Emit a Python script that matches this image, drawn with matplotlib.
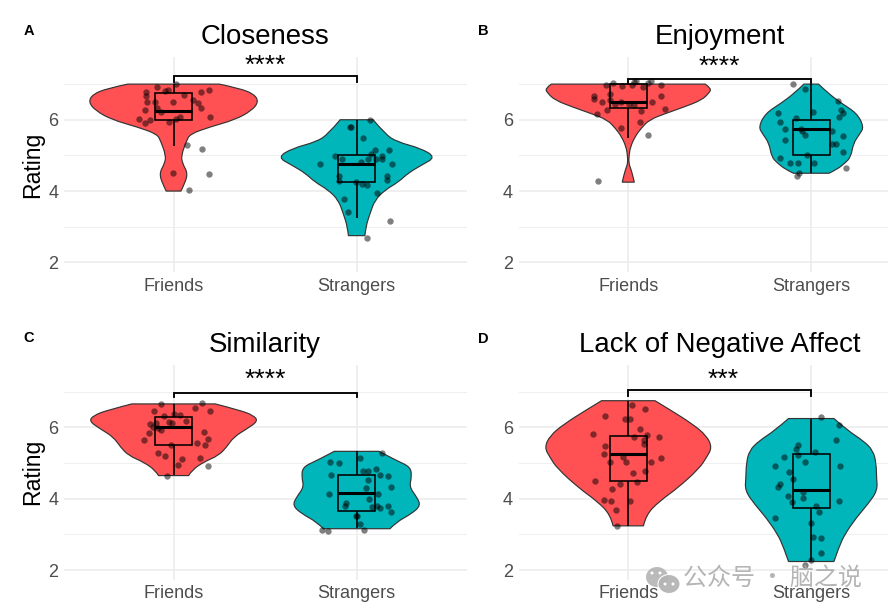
import matplotlib
matplotlib.use('Agg')
import matplotlib.pyplot as plt
from matplotlib.patches import PathPatch, Ellipse, Rectangle
from matplotlib.path import Path

plt.rcParams['font.family'] = ['Liberation Sans', 'DejaVu Sans']

W, H = 888, 615
RED = '#FF5053'
TEAL = '#00B6BB'

categories = ['Friends', 'Strangers']
titles = ['Closeness', 'Enjoyment', 'Similarity', 'Lack of Negative Affect']
panel_letters = ['A', 'B', 'C', 'D']
stars = ['****', '****', '****', '***']
y_ticks = [2, 4, 6]
y_minor = [3, 5, 7]

# violin outlines: rating level, half width in category units
a_f_lev = [7.0, 6.88, 6.72, 6.5, 6.25, 6.0, 5.8, 5.6, 5.4, 5.0, 4.78, 4.5, 4.2, 4.0]
a_f_wid = [.25, .36, .44, .465, .425, .335, .2, .09, .07, .042, .048, .078, .06, .04]
a_s_lev = [6.0, 5.6, 5.38, 5.2, 4.95, 4.73, 4.5, 4.26, 4.03, 3.75, 3.37, 3.0, 2.75]
a_s_wid = [.09, .155, .22, .35, .432, .355, .28, .23, .155, .10, .073, .05, .045]
b_f_lev = [7.0, 6.88, 6.74, 6.55, 6.36, 6.18, 6.0, 5.76, 5.52, 5.24, 5.0, 4.78, 4.65, 4.45, 4.25]
b_f_wid = [.42, .455, .44, .40, .306, .206, .115, .07, .036, .012, .004, .003, .012, .024, .033]
b_s_lev = [7.0, 6.74, 6.46, 6.18, 5.8, 5.6, 5.34, 4.96, 4.78, 4.6, 4.5]
b_s_wid = [.04, .093, .166, .25, .288, .265, .23, .217, .184, .138, .097]
c_f_lev = [6.66, 6.48, 6.34, 6.18, 5.96, 5.73, 5.45, 5.21, 5.03, 4.8, 4.65]
c_f_wid = [.228, .364, .435, .462, .40, .328, .29, .245, .164, .10, .082]
c_s_lev = [5.33, 5.07, 4.89, 4.6, 4.33, 4.05, 3.81, 3.58, 3.35, 3.16]
c_s_wid = [.122, .218, .295, .30, .288, .328, .35, .30, .218, .182]
d_f_lev = [6.75, 6.48, 6.1, 5.77, 5.44, 5.16, 4.85, 4.3, 3.93, 3.55, 3.24]
d_f_wid = [.146, .233, .35, .428, .458, .428, .388, .27, .17, .097, .083]
d_s_lev = [6.25, 5.91, 5.63, 5.35, 4.98, 4.6, 4.23, 3.85, 3.48, 3.01, 2.64, 2.24]
d_s_wid = [.124, .20, .284, .339, .355, .357, .362, .31, .248, .184, .151, .124]

# box stats: low whisker, q1, median, q3, high whisker
a_f_box = [5.25, 6.0, 6.25, 6.75, 7.0]
a_s_box = [3.25, 4.25, 4.75, 5.0, 6.0]
b_f_box = [5.5, 6.33, 6.5, 7.0, 7.0]
b_s_box = [4.5, 5.0, 5.75, 6.0, 7.0]
c_f_box = [4.67, 5.5, 6.0, 6.3, 6.67]
c_s_box = [3.17, 3.67, 4.17, 4.67, 5.33]
d_f_box = [3.25, 4.5, 5.25, 5.75, 6.75]
d_s_box = [2.25, 3.75, 4.25, 5.25, 6.25]

# jittered points: offset from the category, rating
a_f_off = [-.188, -.155, -.126, -.158, -.146, -.148, -.148, -.091, -.047, -.031, .011, -.100, -.091, -.071, -.005,
           .056, .104, .131, .151, .148, .193, .199, .033, .013, -.027, .071, .157, -.005, .191, .082]
a_f_val = [6.01, 5.91, 5.98, 6.28, 6.49, 6.68, 6.79, 6.92, 6.82, 6.83, 7.0, 6.49, 6.34, 6.21, 6.50,
           6.70, 6.55, 6.47, 6.34, 6.79, 6.84, 6.09, 6.07, 6.02, 5.93, 5.29, 5.18, 4.50, 4.47, 4.03]
a_s_off = [-.200, -.117, -.080, -.095, -.095, -.067, -.046, -.036, -.031, .036, .073, .098, .179, .077,
           .060, .137, .140, .104, .022, .191, .166, .166, -.002, .031, .058, .113, .182, .056]
a_s_val = [4.75, 4.98, 4.91, 4.43, 4.28, 3.79, 3.42, 5.80, 5.79, 5.49, 5.99, 5.14, 5.16, 5.03,
           4.91, 4.98, 4.91, 4.90, 4.81, 4.75, 4.41, 4.30, 4.25, 4.19, 4.17, 3.95, 3.17, 2.68]
b_f_off = [-.189, -.189, -.146, -.102, -.098, -.071, -.042, .005, .031, .071, .131, .181, .179, .199, .078,
           .020, -.035, -.082, -.120, .031, .044, .108, .126, -.173, -.115, -.040, .064, .109, -.164]
b_f_val = [6.66, 6.59, 6.50, 6.71, 6.55, 6.43, 6.49, 6.44, 6.40, 6.25, 6.51, 6.67, 6.98, 6.30, 6.92,
           6.97, 6.95, 7.04, 6.98, 7.05, 7.09, 7.03, 7.08, 6.17, 6.26, 5.78, 5.93, 5.56, 4.28]
b_s_off = [-.100, -.036, .146, .164, .175, .153, -.180, -.168, -.142, -.146, -.084, .007, -.055, -.049,
           -.036, .111, .171, .111, .137, .171, -.168, -.117, -.071, -.024, .015, .189, -.069, -.080]
b_s_val = [7.0, 6.85, 6.52, 6.27, 6.20, 6.07, 6.18, 5.93, 5.74, 5.42, 6.04, 6.22, 5.74, 5.69,
           5.57, 5.69, 5.55, 5.31, 5.31, 5.09, 4.93, 4.80, 4.80, 5.01, 4.79, 4.65, 4.51, 4.41]
c_f_off = [-.071, -.107, -.053, .004, .036, .115, .157, .200, .067, -.024, -.007, -.128, -.096, -.111, -.087,
           -.066, -.135, -.162, .164, .189, .129, .173, -.013, -.087, -.046, .047, .025, .146, .186, -.035]
c_f_val = [6.66, 6.47, 6.32, 6.37, 6.35, 6.54, 6.68, 6.45, 6.19, 6.16, 6.12, 6.11, 6.13, 6.01, 5.98,
           5.93, 5.84, 5.64, 5.87, 5.69, 5.55, 5.51, 5.52, 5.27, 5.21, 5.11, 4.94, 5.15, 4.93, 4.65]
c_s_off = [.137, .018, -.144, -.098, -.142, .035, .062, .104, .129, .173, .060, .049, .189, -.153, .118,
           .067, -.060, -.064, .082, .113, .129, .173, .189, -.004, .004, .016, .042, -.188, -.155]
c_s_val = [5.28, 5.14, 5.02, 4.99, 4.67, 4.79, 4.79, 4.84, 4.67, 4.65, 4.54, 4.29, 4.33, 4.12, 4.12,
           3.99, 3.87, 3.79, 3.77, 3.81, 3.73, 3.79, 3.64, 3.51, 3.51, 3.29, 3.12, 3.12, 3.10]
d_f_off = [.020, .093, -.126, -.018, .011, .062, -.191, .029, .100, .169, .087, .085, -.129, -.133, -.027,
           .179, -.102, -.013, .126, .025, .089, -.184, -.044, .047, -.089, -.135, -.093, .011, -.067, -.060]
d_f_val = [6.64, 6.53, 6.32, 6.24, 6.23, 5.97, 5.83, 5.73, 5.79, 5.74, 5.66, 5.53, 5.49, 5.25, 5.17,
           5.13, 5.02, 5.04, 5.04, 4.72, 4.77, 4.49, 4.41, 4.46, 4.26, 3.97, 3.93, 3.95, 3.69, 3.24]
d_s_off = [.056, .153, .137, -.075, -.084, -.075, -.151, .022, -.033, -.197, .157, -.120, -.098, -.168, -.182,
           -.046, -.126, -.047, -.107, .151, .025, .044, -.200, .000, .011, .056, .053, -.002, -.033]
d_s_val = [6.29, 6.08, 5.65, 5.52, 5.40, 5.23, 5.17, 5.31, 5.03, 4.93, 4.92, 4.75, 4.56, 4.41, 4.33,
           4.19, 4.07, 4.02, 3.92, 3.93, 3.80, 3.64, 3.47, 3.32, 2.93, 2.91, 2.47, 2.29, 2.14]

# significance brackets: bar height, tip height, star height, star x
bracket_y = [7.22, 7.14, 6.98, 7.06]
bracket_tip = [7.06, 7.03, 6.86, 6.87]
star_y = [7.50, 7.47, 7.33, 7.33]
star_x = [1.5, 1.5, 1.5, 1.518]

violins = [
    [(a_f_lev, a_f_wid, a_f_box, a_f_off, a_f_val), (a_s_lev, a_s_wid, a_s_box, a_s_off, a_s_val)],
    [(b_f_lev, b_f_wid, b_f_box, b_f_off, b_f_val), (b_s_lev, b_s_wid, b_s_box, b_s_off, b_s_val)],
    [(c_f_lev, c_f_wid, c_f_box, c_f_off, c_f_val), (c_s_lev, c_s_wid, c_s_box, c_s_off, c_s_val)],
    [(d_f_lev, d_f_wid, d_f_box, d_f_off, d_f_val), (d_s_lev, d_s_wid, d_s_box, d_s_off, d_s_val)],
]

# axes edges in pixels: left, right, top, bottom
ax_boxes = [(63.7, 466.5, 57, 272), (518.5, 921, 57, 272),
            (63.7, 466.5, 364.7, 579.7), (518.5, 921, 364.7, 579.7)]
letter_xy = [(29, 31), (483.5, 31), (29, 338), (483.5, 339)]


def side(verts, codes, pts):
    # smooth run through the outline points, quadratic segments
    for i in range(1, len(pts) - 1):
        nxt = pts[i + 1]
        end = nxt if i == len(pts) - 2 else ((pts[i][0] + nxt[0]) / 2, (pts[i][1] + nxt[1]) / 2)
        verts += [pts[i], end]
        codes += [Path.CURVE3, Path.CURVE3]


def violin_patch(x, lev, wid, color):
    right = [(x + w, y) for y, w in zip(lev, wid)]
    left = [(x - w, y) for y, w in zip(lev, wid)][::-1]
    verts = [right[0]]
    codes = [Path.MOVETO]
    side(verts, codes, right)
    verts.append(left[0])
    codes.append(Path.LINETO)
    side(verts, codes, left)
    verts.append(right[0])
    codes.append(Path.CLOSEPOLY)
    return PathPatch(Path(verts, codes), facecolor=color, edgecolor='#333333', lw=0.85, zorder=3)


fig = plt.figure(figsize=(W / 100, H / 100), dpi=100)

for i in range(4):
    l, r, t, b = ax_boxes[i]
    ax = fig.add_axes([l / W, 1 - b / H, (r - l) / W, (b - t) / H])
    ax.set_xlim(0.4, 2.6)
    ax.set_ylim(1.73, 7.76)
    for s in ax.spines.values():
        s.set_visible(False)
    ax.set_xticks([1, 2], categories)
    ax.set_yticks(y_ticks)
    ax.set_yticks(y_minor, minor=True)
    ax.tick_params(which='both', length=0)
    ax.tick_params(axis='both', labelsize=13, labelcolor='#4D4D4D', pad=4)
    ax.grid(True, which='major', color='#EBEBEB', lw=1.1, zorder=0)
    ax.grid(True, which='minor', axis='y', color='#EFEFEF', lw=0.7, zorder=0)
    ax.set_axisbelow(True)
    ax.set_title(titles[i], fontsize=19.9, pad=9.4, color='black')
    if i % 2 == 0:
        ax.set_ylabel('Rating', fontsize=16.6, labelpad=2.5)

    for j, color in enumerate([RED, TEAL]):
        x = j + 1
        lev, wid, box, off, val = violins[i][j]
        ax.add_patch(violin_patch(x, lev, wid, color))
        ax.plot([x, x], [box[0], box[1]], color='black', lw=1.2, zorder=4, solid_capstyle='butt')
        ax.plot([x, x], [box[3], box[4]], color='black', lw=1.2, zorder=4, solid_capstyle='butt')
        ax.add_patch(Rectangle((x - 0.1, box[1]), 0.2, box[3] - box[1], fill=False,
                               edgecolor='black', lw=1.15, zorder=4))
        ax.plot([x - 0.1, x + 0.1], [box[2], box[2]], color='black', lw=2.2, zorder=4,
                solid_capstyle='butt')
        ax.scatter([x + o for o in off], val, s=21, color='black', alpha=0.5, linewidths=0, zorder=5)

    ax.plot([1, 1, 2, 2], [bracket_tip[i], bracket_y[i], bracket_y[i], bracket_tip[i]],
            color='black', lw=1.35, zorder=6, solid_joinstyle='miter')
    ax.text(star_x[i], star_y[i], stars[i], fontsize=19, ha='center', va='center', color='black')

    fig.text(letter_xy[i][0] / W, 1 - letter_xy[i][1] / H, panel_letters[i], fontsize=10.5,
             fontweight='bold', ha='center', va='center')

# watermark in the lower right corner
wm = fig.add_axes([0, 0, 1, 1], facecolor='none')
wm.set_xlim(0, W)
wm.set_ylim(H, 0)
wm.axis('off')
wm.add_patch(Ellipse((657, 577), 22, 20, color='#B4B4B4', alpha=0.9, lw=0))
wm.add_patch(Ellipse((669, 584), 22, 19, facecolor='#B4B4B4', edgecolor='white', lw=0.8, alpha=0.95))
for ex, ey in [(652, 573), (660, 573), (665, 584), (673, 584)]:
    wm.add_patch(Ellipse((ex, ey), 3, 3, color='white', lw=0))
wm.text(772, 579, '公众号 · 脑之说', fontsize=17.3, color='#A8A8A8', alpha=0.85, ha='center', va='center',
        family=['Noto Sans CJK SC', 'DejaVu Sans'])

fig.savefig('out.png', dpi=100)
